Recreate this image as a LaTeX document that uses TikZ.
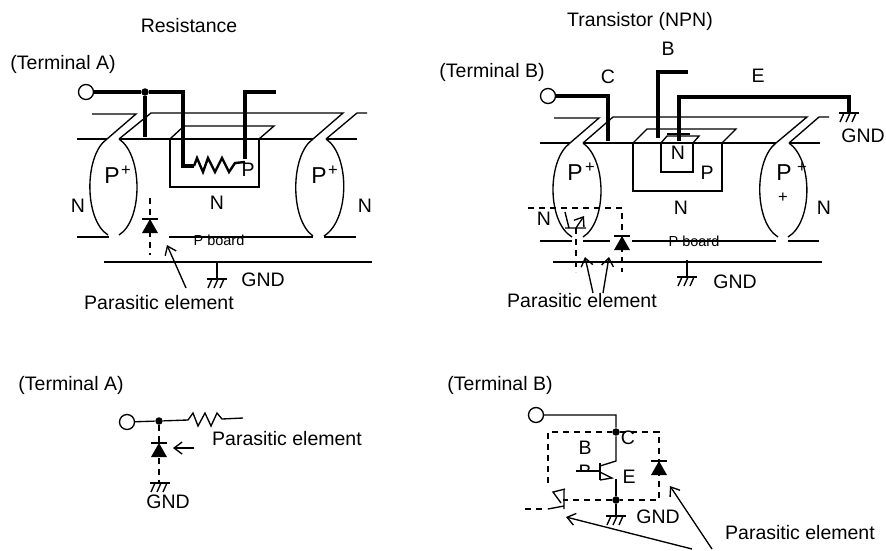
\documentclass[tikz,border=0pt]{standalone}
\usepackage{xcolor}
\usepackage{fontspec}
\setmainfont{Liberation Sans}
\usetikzlibrary{arrows.meta}

\begin{document}
\begin{tikzpicture}[x=1pt,y=-1pt,line width=1.35pt,
		lbl/.style={inner sep=0pt,font=\fontsize{19.5}{21}\selectfont},
		tiny/.style={inner sep=0pt,font=\fontsize{14.5}{16}\selectfont},
		sup/.style={inner sep=0pt,font=\fontsize{16.5}{18}\selectfont},
		big/.style={inner sep=0pt,font=\fontsize{23}{25}\selectfont},
		terminal/.style={circle,draw,fill=white,minimum size=15pt,inner sep=0pt},
		junction/.style={circle,fill=black,minimum size=7.5pt,inner sep=0pt},
		wire/.style={line width=3.3pt,line join=miter},
		parasitic/.style={dash pattern=on 6pt off 5pt,line width=1.4pt},
		pointer/.style={-{Straight Barb[length=8pt,width=12pt,line width=1.35pt]},line width=1.35pt},
		gnd/.pic={\draw (-10,0) -- (10,0);
			\foreach \x in {-5,1,7} \draw (\x,0) -- (\x-4,9);},
		diode/.pic={\draw (-8,0) -- (8,0);
			\fill (0,0) -- (8,14) -- (-8,14) -- cycle;}]
	\useasboundingbox (0,0) rectangle (886,550);

	% titles
	\node (t_res)	[lbl] at (189,26) {Resistance};
	\node (t_npn)	[lbl] at (640,21) {Transistor (NPN)};

	% --- resistance, cross section
	\node (l_terma)	[lbl] at (63,64) {(Terminal A)};
	\node (a_in)	[terminal] at (86,92) {};
	\node (a_dot)	[junction] at (145,92) {};
	\coordinate (a_tap) at (145,137);
	\draw[wire] (a_in) -- (a_dot) -- (a_tap);
	\draw[wire] (a_dot) -| (183,166) -- (194,166);
	\draw[line width=2.4pt] (194,166) -- (197,158) -- (203,172) -- (208,158) -- (215,172) -- (222,158) -- (229,172) -- (235,163) -- (245,162);
	\draw[wire] (245,159) |- (276,92);

	\draw (92,114) -- (136,114) -- (107,139);
	\draw (119,139) -- (151,113) -- (343,113) -- (313,139);
	\draw (326,139) -- (357,113) -- (367,113);
	\draw (77,139) -- (107,139) (119,139) -- (313,139) (326,139) -- (357,139);
	\draw (170,139) rectangle (259,187);
	\draw (170,139) -- (184,126) -- (274,126) -- (259,139);

	\draw (107,139) .. controls (84,155) and (84,220) .. (108,235);
	\draw (119,139) .. controls (143,155) and (143,220) .. (119,235);
	\draw (313,139) .. controls (290,155) and (290,220) .. (313,236);
	\draw (326,139) .. controls (350,155) and (350,220) .. (324,236);
	\draw (77,237) -- (109,237) (169,237) -- (313,237) (324,237) -- (356,237);
	\draw (104,262) -- (372,262);
	\draw (217,262) -- (217,279);
	\pic at (217,279) {gnd};

	\draw[parasitic] (150,198) -- (150,255);
	\pic at (150,219) {diode};
	\draw[pointer] (186,288) -- (167,245);

	\node (p_a1)	[big] at (112,176) {P};
	\node (s_a1)	[sup] at (126,171) {+};
	\node (p_a2)	[big] at (319,176) {P};
	\node (s_a2)	[sup] at (333,171) {+};
	\node (p_a3)	[lbl] at (248,170) {P};
	\node (n_a1)	[lbl] at (78,206) {N};
	\node (n_a2)	[lbl] at (217,203) {N};
	\node (n_a3)	[lbl] at (365,206) {N};
	\node (b_a)		[tiny] at (219,240) {P board};
	\node (g_a)		[lbl] at (263,280) {GND};
	\node (e_a)		[lbl] at (159,303) {Parasitic element};

	% --- transistor, cross section
	\node (l_termb)	[lbl] at (492,72) {(Terminal B)};
	\node (l_c)		[lbl] at (608,77) {C};
	\node (l_b)		[lbl] at (668,49) {B};
	\node (l_e)		[lbl] at (758,76) {E};
	\node (b_in)	[terminal] at (548,96) {};
	\coordinate (b_cin) at (608,141);
	\draw[wire] (b_in) -| (b_cin);
	\draw[wire] (658,138) |- (688,72);
	\draw[wire] (679,141) |- (849,97) -- (849,113);
	\pic at (849,113) {gnd};

	\draw (554,118) -- (599,118) -- (570,143);
	\draw (583,143) -- (613,117) -- (807,117) -- (776,143);
	\draw (789,143) -- (819,117) -- (829,117);
	\draw (540,143) -- (570,143) (583,143) -- (776,143) (789,143) -- (820,143);
	\draw (633,143) rectangle (722,191);
	\draw (633,143) -- (647,129) -- (736,129) -- (722,143);
	\draw (661,143) rectangle (693,172);
	\draw (661,143) -- (667,136) -- (699,136) -- (693,143);
	\draw (667,134) -- (690,134);

	\draw (570,143) .. controls (547,160) and (547,222) .. (572,237);
	\draw (583,143) .. controls (607,160) and (607,222) .. (583,237);
	\draw (776,143) .. controls (754,160) and (754,222) .. (778,237);
	\draw (789,143) .. controls (813,160) and (813,222) .. (788,237);
	\draw (540,241) -- (572,241) (583,241) -- (610,241) (632,241) -- (776,241) (788,241) -- (819,241);
	\draw (553,262) -- (822,262);
	\draw (687,260) -- (687,277);
	\pic at (687,277) {gnd};

	\draw[parasitic] (528,208) -| (622,272);
	\pic at (622,236) {diode};
	\draw[parasitic] (576,228) -- (576,272);
	\draw (565,212) -- (569,228) (565,228) -- (586,228);
	\draw[pointer] (576,228) -- (584,216);
	\draw[pointer] (593,293) -- (585,257);
	\draw[pointer] (603,293) -- (609,257);

	\node (p_b1)	[big] at (575,173) {P};
	\node (s_b1)	[sup] at (590,168) {+};
	\node (p_b2)	[big] at (784,173) {P};
	\node (s_b2)	[sup] at (802,168) {+};
	\node (s_b3)	[sup] at (783,198) {+};
	\node (p_b3)	[lbl] at (707,173) {P};
	\node (n_b1)	[lbl] at (678,153) {N};
	\node (n_b2)	[lbl] at (681,208) {N};
	\node (n_b3)	[lbl] at (544,219) {N};
	\node (n_b4)	[lbl] at (824,208) {N};
	\node (b_b)		[tiny] at (694,241) {P board};
	\node (g_b1)	[lbl] at (863,136) {GND};
	\node (g_b2)	[lbl] at (735,282) {GND};
	\node (e_b)		[lbl] at (582,301) {Parasitic element};

	% --- resistance, equivalent circuit
	\node (l_terma2)	[lbl] at (71,385) {(Terminal A)};
	\node (c_in)	[terminal] at (127,422) {};
	\node (c_dot)	[junction] at (159,421) {};
	\coordinate (c_r) at (188,420);
	\coordinate (c_end) at (243,418);
	\draw (c_in) -- (c_dot) -- (c_r) -- (193,413) -- (198,426) -- (205,413) -- (211,426) -- (217,413) -- (222,419) -- (c_end);
	\draw[parasitic] (c_dot) -- (159,483);
	\pic at (159,443) {diode};
	\draw[pointer] (194,448) -- (173,448);
	\pic at (160,483) {gnd};
	\node (g_c)		[lbl] at (168,502) {GND};
	\node (e_c)		[lbl] at (287,439) {Parasitic element};

	% --- transistor, equivalent circuit
	\node (l_termb2)	[lbl] at (500,385) {(Terminal B)};
	\node (d_in)	[terminal] at (536,415) {};
	\node (d_c)		[junction] at (616,432) {};
	\node (d_e)		[junction] at (616,500) {};
	\coordinate (d_k) at (616,461);
	\draw (d_in) -| (d_c) -- (d_k) -- (600,466);
	\begin{scope}
		\clip (570,460) rectangle (600,471);
		\node (l_bb)	[lbl] at (585,472) {B};
	\end{scope}
	\draw (600,463) -- (600,480) (576,471) -- (600,471);
	\draw (600,472) -- (612,478) -- (600,480);
	\draw (616,479) -- (d_e) -- (616,516);
	\pic at (616,516) {gnd};
	\draw[parasitic] (548,483) |- (d_c) -- (659,432) -- (659,500) -- (d_e) -- (563,500);
	\pic at (659,461) {diode};
	\draw[parasitic] (525,509) -- (547,509);
	\draw (548,509) -- (564,506) (564,490) -- (564,509);
	\draw (565,489) -- (553,492) -- (561,503);
	\draw[pointer] (692,549) -- (566,517);
	\draw[pointer] (712,549) -- (670,486);
	\node (l_c2)	[lbl] at (628,438) {C};
	\node (l_b2)	[lbl] at (585,448) {B};
	\node (l_e2)	[lbl] at (629,477) {E};
	\node (g_d)		[lbl] at (658,517) {GND};
	\node (e_d)		[lbl] at (800,533) {Parasitic element};
\end{tikzpicture}
\end{document}
